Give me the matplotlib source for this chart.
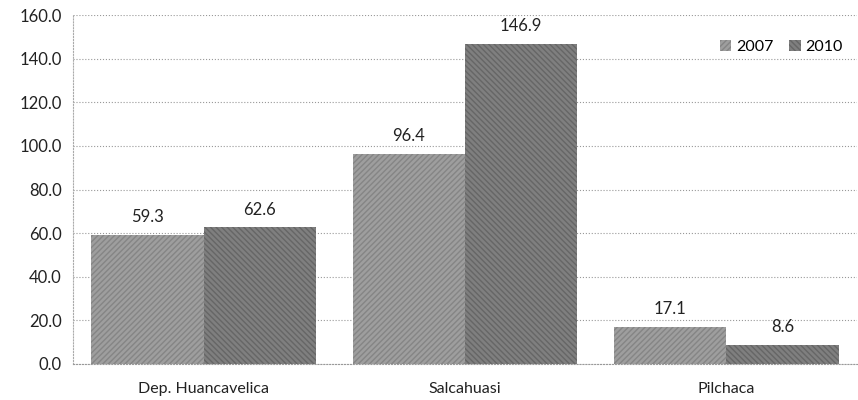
import numpy as np
import matplotlib
matplotlib.use("Agg")
import matplotlib.pyplot as plt

plt.rcParams['font.family'] = ['Lato', 'DejaVu Sans']

lugares = ['Dep. Huancavelica', 'Salcahuasi', 'Pilchaca']
valores_2007 = [59.3, 96.4, 17.1]
valores_2010 = [62.6, 146.9, 8.6]
ticks_y = [0, 20, 40, 60, 80, 100, 120, 140, 160]

fig = plt.figure(figsize=(8.58, 4.0), dpi=100)
ax = fig.add_axes([0.085, 0.09, 0.914, 0.8725])

x = np.arange(len(lugares))
ancho = 0.43

b1 = ax.bar(x - ancho / 2, valores_2007, ancho, color='#9e9e9e',
            edgecolor='#858585', hatch='//////', linewidth=0, label='2007', zorder=2)
b2 = ax.bar(x + ancho / 2, valores_2010, ancho, color='#7f7f7f',
            edgecolor='#666666', hatch='\\\\\\\\\\\\', linewidth=0, label='2010', zorder=2)

for barras in (b1, b2):
    for r in barras:
        ax.text(r.get_x() + r.get_width() / 2, r.get_height() + 4.5,
                f'{r.get_height():.1f}', ha='center', va='bottom',
                fontsize=12, color='#222222')

ax.set_xlim(-0.5, 2.5)
ax.set_ylim(0, 160)
ax.set_yticks(ticks_y)
ax.set_yticklabels([f'{v:.1f}' for v in ticks_y], fontsize=12, color='#222222')
ax.set_xticks(x)
ax.set_xticklabels(lugares, fontsize=11.5, color='#222222')
ax.tick_params(axis='y', length=0, pad=8)
ax.tick_params(axis='x', length=0, pad=13)

ax.yaxis.grid(True, linestyle=':', color='#999999', linewidth=0.8, zorder=0)
for lado in ('top', 'right'):
    ax.spines[lado].set_visible(False)
ax.spines['left'].set_linestyle(':')
ax.spines['left'].set_color('#aaaaaa')
ax.spines['bottom'].set_linestyle(':')
ax.spines['bottom'].set_color('#999999')

ax.legend(loc='upper right', bbox_to_anchor=(1.0, 0.97), ncol=2, frameon=False,
          fontsize=11.5, handlelength=0.7, handleheight=0.7, handletextpad=0.3,
          columnspacing=1.0)

fig.savefig('out.png', dpi=100)
